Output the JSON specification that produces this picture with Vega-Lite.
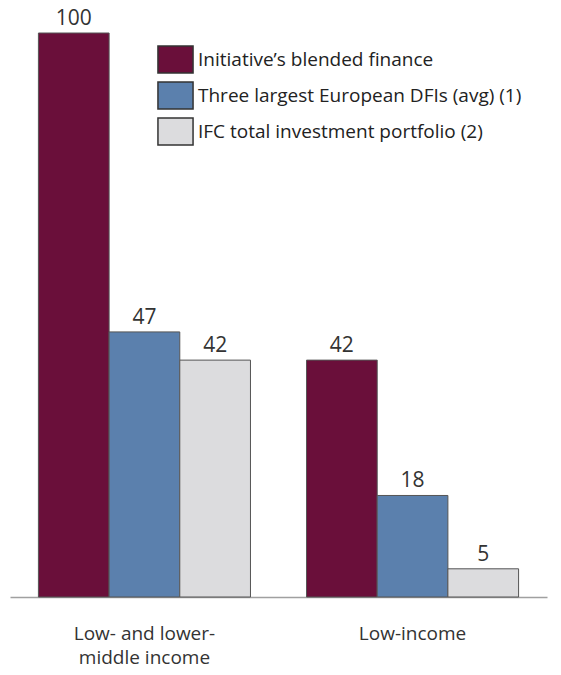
{
  "$schema": "https://vega.github.io/schema/vega-lite/v6.json",
  "width": 537,
  "height": 564,
  "autosize": {"type": "none"},
  "padding": {"left": 10, "top": 33, "right": 14, "bottom": 78},
  "background": "white",
  "config": {"view": {"stroke": null}, "font": "Open Sans"},
  "data": {"values": [
    {"group": "Low- and lower-middle income", "series": "Initiative’s blended finance", "value": 100},
    {"group": "Low- and lower-middle income", "series": "Three largest European DFIs (avg) (1)", "value": 47},
    {"group": "Low- and lower-middle income", "series": "IFC total investment portfolio (2)", "value": 42},
    {"group": "Low-income", "series": "Initiative’s blended finance", "value": 42},
    {"group": "Low-income", "series": "Three largest European DFIs (avg) (1)", "value": 18},
    {"group": "Low-income", "series": "IFC total investment portfolio (2)", "value": 5}
  ]},
  "encoding": {
    "x": {"field": "group", "type": "nominal", "sort": null,
      "scale": {"paddingInner": 0.209, "paddingOuter": 0.106},
      "axis": {"title": null, "ticks": false, "labelAngle": 0, "domainColor": "#a0a0a0", "domainWidth": 1.5,
        "labelFontSize": 19, "labelColor": "#333", "labelPadding": 27, "labelLineHeight": 24,
        "labelExpr": "datum.value == 'Low- and lower-middle income' ? ['Low- and lower-', 'middle income'] : datum.value"}},
    "xOffset": {"field": "series", "type": "nominal", "sort": ["Initiative’s blended finance", "Three largest European DFIs (avg) (1)", "IFC total investment portfolio (2)"], "scale": {"paddingInner": 0, "paddingOuter": 0}},
    "y": {"field": "value", "type": "quantitative", "scale": {"domain": [0, 100], "nice": false}, "axis": null}
  },
  "layer": [
    {
      "mark": {"type": "bar", "stroke": "#555", "strokeWidth": 1},
      "encoding": {
        "fill": {"field": "series", "type": "nominal",
          "sort": ["Initiative’s blended finance", "Three largest European DFIs (avg) (1)", "IFC total investment portfolio (2)"],
          "scale": {"domain": ["Initiative’s blended finance", "Three largest European DFIs (avg) (1)", "IFC total investment portfolio (2)"], "range": ["#6a0f3a", "#5b80ad", "#dcdcde"]},
          "legend": {"title": null, "orient": "none", "legendX": 151, "legendY": 12, "padding": 0,
            "symbolType": "M-1.3,-1L1.3,-1L1.3,1L-1.3,1Z", "symbolSize": 729, "symbolStrokeColor": "#333", "symbolStrokeWidth": 1.5,
            "labelFontSize": 19, "labelColor": "#222", "labelOffset": 8, "rowPadding": 3, "labelLimit": 400}}
      }
    },
    {
      "mark": {"type": "text", "baseline": "bottom", "dy": -4, "fontSize": 21, "color": "#333"},
      "encoding": {"text": {"field": "value", "type": "quantitative"}}
    }
  ]
}
